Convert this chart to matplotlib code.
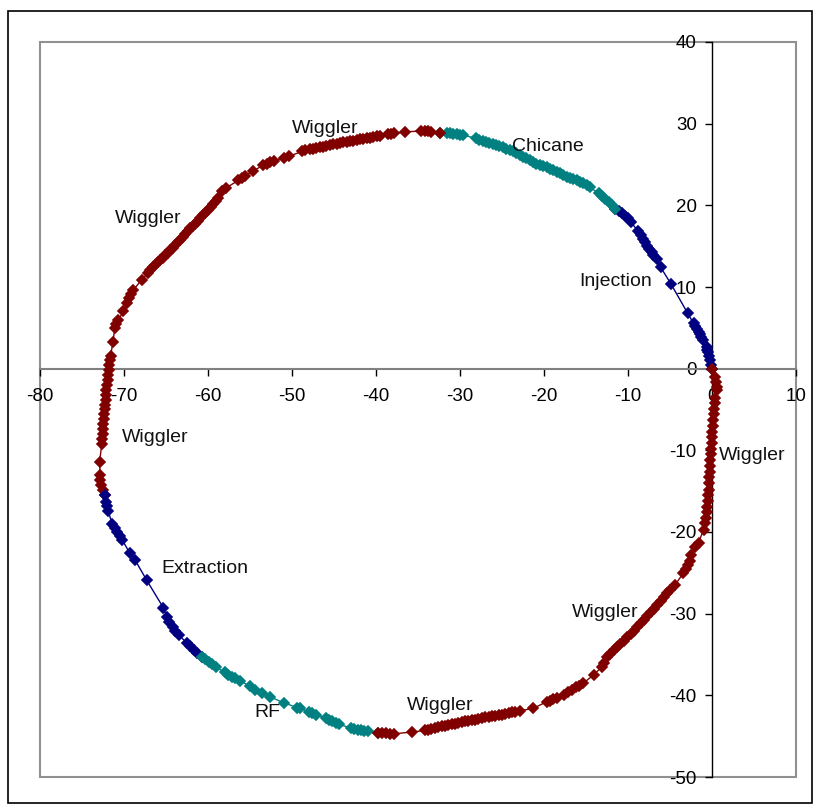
import matplotlib.pyplot as plt
from matplotlib.patches import Rectangle

plt.rcParams['font.family'] = ['Liberation Sans', 'DejaVu Sans']
plt.rcParams['axes.unicode_minus'] = False

RED = '#800000'
TEAL = '#008080'
NAVY = '#000080'

# Injection (from origin up to the chicane)
inj_x = [0.0, -0.1, -0.2, -0.3, -0.45, -0.55, -0.65, -1.1, -1.3, -1.45, -1.6, -1.8, -2.0, -2.2,
         -2.9, -4.9, -6.1, -6.6, -7.0, -7.2, -7.5, -7.7, -8.0, -8.2, -8.4, -8.8, -9.6, -10.0,
         -10.3, -10.75, -11.1, -11.5]
inj_y = [0.0, 0.5, 1.0, 1.5, 2.0, 2.3, 2.6, 3.5, 3.9, 4.25, 4.5, 4.9, 5.2, 5.55,
         6.8, 10.4, 12.4, 13.4, 13.9, 14.3, 14.7, 15.0, 15.5, 15.9, 16.4, 16.8, 17.9, 18.5,
         18.7, 19.0, 19.3, 19.6]

# Chicane
chic_x = [-11.5, -11.9, -12.3, -12.7, -13.1, -13.5, -14.5, -14.9, -15.3, -15.7, -16.1, -16.5,
          -16.9, -17.3, -17.7, -18.1, -18.5, -18.9, -19.3, -19.7, -20.1, -20.5, -20.9, -21.3,
          -21.7, -22.1, -22.5, -22.9, -23.3, -23.7, -24.1, -24.5, -24.9, -25.3, -25.7, -26.1,
          -26.5, -26.9, -27.3, -27.7, -28.1, -29.6, -30.0, -30.4, -30.8, -31.2, -31.6, -32.4]
chic_y = [19.6, 20.0, 20.4, 20.75, 21.1, 21.45, 22.2, 22.45, 22.7, 22.9, 23.05, 23.2,
          23.35, 23.5, 23.7, 23.9, 24.1, 24.3, 24.5, 24.7, 24.85, 24.95, 25.1, 25.3,
          25.5, 25.75, 25.95, 26.15, 26.4, 26.6, 26.75, 26.9, 27.1, 27.25, 27.35, 27.5,
          27.6, 27.75, 27.9, 28.05, 28.2, 28.6, 28.65, 28.7, 28.75, 28.8, 28.85, 28.9]

# Wiggler, top and left side
wig1_x = [-32.4, -33.4, -33.8, -34.2, -34.6, -36.5, -37.8, -38.2, -38.6,
          -39.5, -39.9, -40.3, -40.7, -41.1, -41.5, -41.9, -42.3, -42.7, -43.1, -43.5, -43.9,
          -44.3, -44.7, -45.1, -45.5, -45.9, -46.3, -46.7, -47.1, -47.5, -47.9, -48.4, -48.8,
          -50.4, -50.9, -52.2, -52.6, -53.0, -53.4, -54.6, -55.6, -56.0, -56.4, -57.9, -58.3,
          -58.8, -59.1, -59.4, -59.7, -60.0, -60.3, -60.6, -60.9, -61.2, -61.5, -61.8, -62.1,
          -62.4, -62.7, -63.0, -63.3, -63.6, -63.9, -64.2, -64.5, -64.8, -65.1, -65.4, -65.7,
          -66.0, -66.3, -66.6, -66.9, -67.1, -67.9, -68.9, -69.2, -69.4, -69.6, -70.1,
          -70.7, -70.9, -71.1, -71.3,
          -71.6, -71.7, -71.75, -71.8, -71.9, -71.95, -72.0, -72.1, -72.15, -72.2, -72.3, -72.3,
          -72.35, -72.4, -72.45, -72.5, -72.55, -72.6, -72.65, -72.9,
          -72.85, -72.8, -72.7, -72.5, -72.3]
wig1_y = [28.9, 29.0, 29.05, 29.1, 29.1, 29.0, 28.8, 28.75, 28.7,
          28.5, 28.45, 28.4, 28.3, 28.25, 28.15, 28.1, 28.0, 27.9, 27.85, 27.75, 27.7,
          27.6, 27.5, 27.45, 27.35, 27.3, 27.2, 27.1, 27.05, 26.95, 26.9, 26.75, 26.6,
          26.0, 25.85, 25.45, 25.3, 25.1, 24.95, 24.2, 23.6, 23.3, 23.05, 22.1, 21.7,
          20.9, 20.5, 20.15, 19.8, 19.45, 19.1, 18.8, 18.45, 18.1, 17.75, 17.45, 17.2,
          16.85, 16.5, 16.15, 15.8, 15.45, 15.1, 14.8, 14.5, 14.2, 13.9, 13.6, 13.3,
          13.0, 12.7, 12.4, 12.05, 11.75, 10.9, 9.6, 9.1, 8.6, 8.1, 7.0,
          5.9, 5.45, 5.0, 3.3,
          1.6, 1.0, 0.4, -0.2, -0.8, -1.4, -2.0, -2.6, -3.2, -3.8, -4.4, -5.0,
          -5.6, -6.2, -6.8, -7.4, -8.0, -8.6, -9.2, -11.4,
          -13.0, -13.6, -14.2, -14.8, -15.5]

# Extraction
ext_x = [-72.3, -72.1, -72.0, -71.9, -71.4, -71.1, -70.8, -70.5, -70.2, -69.3, -68.7, -67.3,
         -65.3, -64.9, -64.6, -64.2, -63.9, -63.5, -62.5, -62.1, -61.7, -61.3, -60.7]
ext_y = [-15.5, -16.3, -16.8, -17.4, -19.0, -19.5, -20.0, -20.5, -21.0, -22.6, -23.4, -25.9,
         -29.3, -30.4, -31.0, -31.6, -32.1, -32.6, -33.6, -34.0, -34.4, -34.8, -35.3]

# RF
rf_x = [-60.7, -60.3, -59.9, -59.5, -59.1, -58.0, -57.6, -57.2, -56.8, -56.2, -55.0, -54.4,
        -53.6, -52.6, -51.0, -49.4, -49.0, -48.0, -47.6, -47.2, -46.0, -45.6, -45.2, -44.8,
        -44.4, -43.0, -42.6, -42.2, -41.8, -41.4, -40.9, -39.8]
rf_y = [-35.3, -35.6, -35.9, -36.2, -36.5, -37.2, -37.5, -37.7, -37.9, -38.2, -38.9, -39.3,
        -39.7, -40.2, -40.9, -41.5, -41.6, -42.0, -42.2, -42.35, -42.8, -43.0, -43.15, -43.35,
        -43.55, -44.0, -44.1, -44.2, -44.3, -44.35, -44.4, -44.6]

# Wiggler, bottom and right side back to the origin
wig2_x = [-39.8, -39.3, -38.8, -38.3, -37.8, -35.7, -34.2, -33.8, -33.4, -33.0, -32.6, -32.2,
          -31.8, -31.4, -31.0, -30.6, -30.2, -29.8, -29.4, -29.0, -28.6, -28.2, -27.8, -27.4,
          -27.0, -26.6, -26.2, -25.8, -25.4, -25.0, -24.6, -24.2, -23.8, -23.4, -22.9, -21.3,
          -19.7, -19.3, -18.9, -18.5, -17.6, -17.2, -16.7, -16.2, -15.8, -15.3, -14.1, -13.1,
          -12.8, -12.5, -12.1, -11.7, -11.3, -10.9, -10.5, -10.1, -9.7, -9.3, -8.9, -8.5,
          -8.1, -7.7, -7.3, -6.9, -6.5, -6.1, -5.7, -5.3, -5.0, -4.4, -3.4, -3.1,
          -2.85, -2.6, -2.5, -2.0, -1.6, -1.0, -0.8, -0.7, -0.65, -0.6, -0.5, -0.45,
          -0.4, -0.35, -0.3, -0.25, -0.2, -0.2, -0.15, -0.1, -0.05, 0.0, 0.05, 0.1,
          0.15, 0.2, 0.25, 0.3, 0.4, 0.56, 0.56, 0.45, 0.36, 0.0]
wig2_y = [-44.6, -44.6, -44.65, -44.7, -44.7, -44.5, -44.3, -44.2, -44.1, -44.0, -43.9, -43.8,
          -43.75, -43.65, -43.55, -43.45, -43.4, -43.3, -43.2, -43.15, -43.05, -43.0, -42.9, -42.8,
          -42.7, -42.6, -42.55, -42.5, -42.4, -42.35, -42.25, -42.2, -42.1, -42.0, -41.9, -41.6,
          -40.8, -40.65, -40.5, -40.3, -39.9, -39.65, -39.3, -39.0, -38.8, -38.5, -37.5, -36.5,
          -36.0, -35.3, -34.95, -34.5, -34.1, -33.7, -33.3, -32.9, -32.5, -32.1, -31.65, -31.2,
          -30.75, -30.3, -29.85, -29.4, -28.9, -28.4, -27.9, -27.45, -27.1, -26.5, -25.0, -24.5,
          -24.0, -23.6, -22.8, -21.8, -21.3, -19.7, -18.9, -18.3, -17.6, -16.9, -16.2, -15.5,
          -14.8, -14.0, -13.3, -12.6, -11.9, -11.2, -10.5, -9.8, -9.1, -8.4, -7.7, -7.0,
          -6.3, -5.6, -4.9, -4.2, -3.6, -2.6, -2.2, -1.6, -1.0, 0.0]

labels = ['Wiggler', 'Chicane', 'Wiggler', 'Injection', 'Wiggler', 'Wiggler',
          'Extraction', 'Wiggler', 'RF', 'Wiggler']
label_x = [-46.1, -19.5, -67.1, -11.5, -66.3, 4.8, -60.4, -12.7, -52.9, -32.3]
label_y = [29.4, 27.2, 18.4, 10.7, -8.4, -10.6, -24.5, -29.8, -42.1, -41.2]

fig = plt.figure(figsize=(8.14, 8.05), dpi=100)
ax = fig.add_axes([40 / 814, 1 - 777 / 805, 756 / 814, 735 / 805])

segments = [(inj_x, inj_y, NAVY), (chic_x, chic_y, TEAL), (wig1_x, wig1_y, RED),
            (ext_x, ext_y, NAVY), (rf_x, rf_y, TEAL), (wig2_x, wig2_y, RED)]
for xs, ys, c in segments:
    ax.plot(xs, ys, color=c, lw=1.0, marker='D', ms=5.2, mec=c, mew=1.2, zorder=3)

for t, x, y in zip(labels, label_x, label_y):
    ax.text(x, y, t, ha='center', va='center', fontsize=14, color='#111111')

ax.set_xlim(-80, 10)
ax.set_ylim(-50, 40)
ax.set_xticks(range(-80, 11, 10))
ax.set_yticks(range(-50, 41, 10))

# axes cross at the origin
ax.spines['left'].set_position(('data', 0))
ax.spines['bottom'].set_position(('data', 0))
ax.spines['left'].set_color('black')
ax.spines['bottom'].set_color('#808080')
ax.spines['left'].set_linewidth(1.0)
ax.spines['bottom'].set_linewidth(1.5)
ax.spines['top'].set_visible(False)
ax.spines['right'].set_visible(False)
ax.tick_params(axis='x', direction='out', length=5, width=1, color='black', pad=9, labelsize=13.5)
ax.tick_params(axis='y', direction='out', length=5, width=1, color='black', pad=6, labelsize=13.5)

# plot-area frame
ax.add_patch(Rectangle((0, 0), 1, 1, transform=ax.transAxes, fill=False,
                       edgecolor='#909090', lw=1.5, clip_on=False, zorder=1))

# outer chart border
fig.add_artist(Rectangle((8 / 814, 1 - 803 / 805), 804 / 814, 792 / 805,
                         transform=fig.transFigure, fill=False, edgecolor='black', lw=1.2))

fig.savefig('out.png', dpi=100)
